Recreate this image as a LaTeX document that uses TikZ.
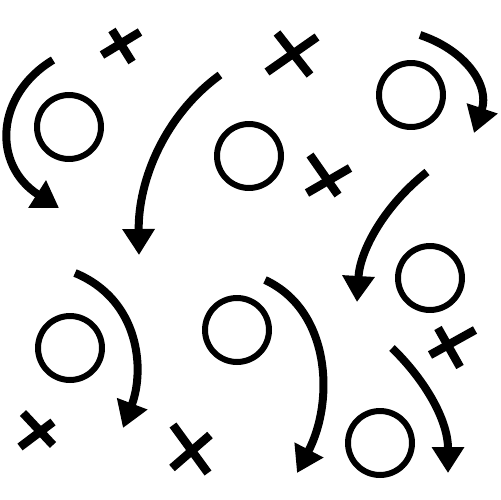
\documentclass[tikz,border=0pt]{standalone}
\usetikzlibrary{arrows.meta}
\begin{document}
\begin{tikzpicture}[x=0.02cm, y=-0.02cm,
		ring/.style={line width=0.12cm},
		crossarm/.style={line width=0.17cm},
		playarrow/.style={line width=0.16cm, -{Triangle[width=0.62cm, length=0.52cm]}}]
				\useasboundingbox[fill=white] (0,0) rectangle (500,500);
				\draw[ring] (69,127) circle (0.64cm);
				\draw[ring] (249,156) circle (0.64cm);
				\draw[ring] (411,95) circle (0.64cm);
				\draw[ring] (430,278) circle (0.64cm);
				\draw[ring] (70,348) circle (0.64cm);
				\draw[ring] (237,330) circle (0.64cm);
				\draw[ring] (380,443) circle (0.64cm);
				\draw[crossarm] (102,55) -- (140,32);
				\draw[crossarm] (112,30) -- (132,62);
				\draw[crossarm] (267,72) -- (317,37);
				\draw[crossarm] (277,33) -- (310,75);
				\draw[crossarm] (307,193) -- (350,168);
				\draw[crossarm] (310,155) -- (338,195);
				\draw[crossarm] (430,355) -- (475,330);
				\draw[crossarm] (438,328) -- (460,367);
				\draw[crossarm] (20,447) -- (53,422);
				\draw[crossarm] (23,413) -- (53,445);
				\draw[crossarm] (173,425) -- (208,473);
				\draw[crossarm] (172,468) -- (210,435);
				\draw[playarrow] (53,60) .. controls (-5,95) and (-8,165) .. (59,208);
				\draw[playarrow] (220,75) .. controls (165,115) and (138,180) .. (139,255);
				\draw[playarrow] (420,35) .. controls (465,50) and (490,85) .. (474,133);
				\draw[playarrow] (427,172) .. controls (385,205) and (360,250) .. (357,302);
				\draw[playarrow] (75,273) .. controls (140,300) and (145,370) .. (123,428);
				\draw[playarrow] (265,280) .. controls (330,310) and (335,400) .. (297,473);
				\draw[playarrow] (392,348) .. controls (425,380) and (448,420) .. (448,473);
		\end{tikzpicture}
\end{document}
